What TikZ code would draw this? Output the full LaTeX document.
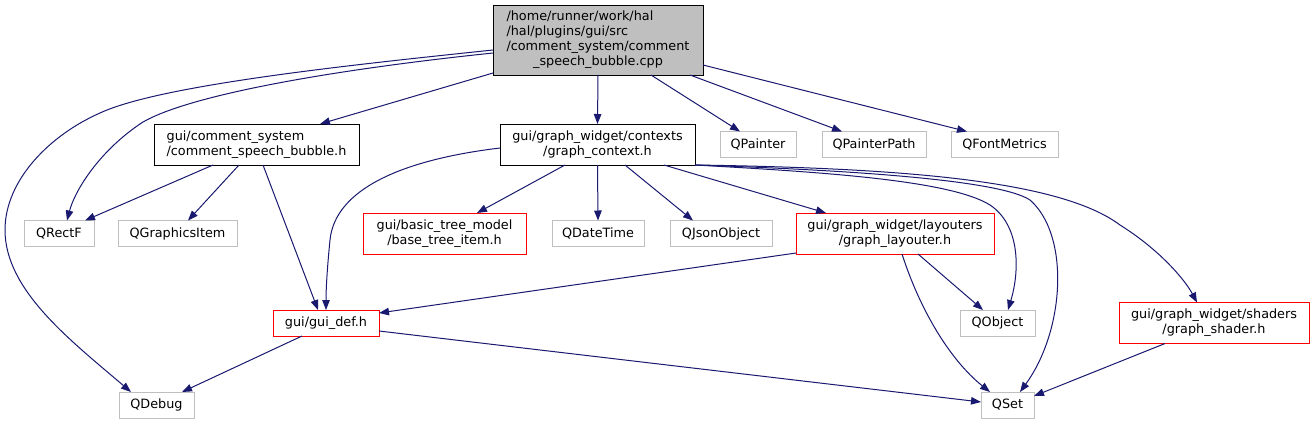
\documentclass[tikz,border=0pt]{standalone}
\usepackage{fontspec}
\setmainfont{DejaVu Sans}
\usetikzlibrary{arrows.meta}
\definecolor{edgecol}{HTML}{191970}
\definecolor{gborder}{HTML}{BFBFBF}
\definecolor{rborder}{HTML}{FF0000}
\begin{document}
\begin{tikzpicture}[x=1pt,y=-1pt,
  every node/.style={font=\fontsize{12.8}{15}\selectfont, inner sep=0pt, outer sep=0pt, line width=1pt},
  box/.style={draw, rectangle, align=center},
  extbox/.style={box, draw=gborder, minimum height=26pt},
  redbox/.style={box, draw=rborder},
  blkbox/.style={box, draw=black},
  edgeline/.style={draw=edgecol, line width=1pt, -{Triangle[length=10pt,width=7.5pt]}}
]
\fill[white] (0,0) rectangle (1314,424);
\useasboundingbox (0,0) rectangle (1314,424);

% nodes
\node[blkbox, fill=gborder, minimum width=210pt, minimum height=70pt] (root) at (598,40)
  {\begin{tabular}{@{}l@{}}/home/runner/work/hal\\/hal/plugins/gui/src\\/comment\_system/comment\\\multicolumn{1}{@{}c@{}}{\_speech\_bubble.cpp}\end{tabular}};
\node[blkbox, align=left, minimum width=205pt, minimum height=41pt] (csb) at (256.5,144.5)
  {gui/comment\_system\\/comment\_speech\_bubble.h};
\node[blkbox, minimum width=195pt, minimum height=41pt] (gctx) at (597.5,144.5)
  {gui/graph\_widget/contexts\\/graph\_context.h};
\node[extbox, minimum width=76pt] (qpainter) at (758,144.5) {QPainter};
\node[extbox, minimum width=104pt] (qpainterpath) at (874,144.5) {QPainterPath};
\node[extbox, minimum width=107pt] (qfontmetrics) at (1004.5,144.5) {QFontMetrics};

\node[extbox, minimum width=70pt] (qrectf) at (59,233.5) {QRectF};
\node[extbox, minimum width=119pt] (qgraphicsitem) at (177.5,233.5) {QGraphicsItem};
\node[redbox, minimum width=163pt, minimum height=41pt] (basetree) at (444.5,233.5)
  {gui/basic\_tree\_model\\/base\_tree\_item.h};
\node[extbox, minimum width=92pt] (qdatetime) at (598,233.5) {QDateTime};
\node[extbox, minimum width=102pt] (qjson) at (721,233.5) {QJsonObject};
\node[redbox, minimum width=198pt, minimum height=41pt] (layouter) at (895,233.5)
  {gui/graph\_widget/layouters\\/graph\_layouter.h};

\node[redbox, minimum width=106pt, minimum height=26pt] (guidef) at (326,323) {gui/gui\_def.h};
\node[extbox, minimum width=75pt] (qobject) at (997.5,323) {QObject};
\node[redbox, minimum width=190pt, minimum height=41pt] (shader) at (1214,323)
  {gui/graph\_widget/shaders\\/graph\_shader.h};

\node[extbox, minimum width=75pt] (qdebug) at (156.5,405) {QDebug};
\node[extbox, minimum width=53pt] (qset) at (1007.5,405) {QSet};

% edges from root
\draw[edgeline] ([yshift=-10pt]root.west) .. controls (350,65) and (160,85) .. (100,113)
  .. controls (50,135) and (5,180) .. (5,230) .. controls (5,290) and (70,340) .. ([xshift=12pt]qdebug.north west);
\draw[edgeline] ([yshift=-13pt]root.west) .. controls (330,70) and (190,95) .. (143,122)
  .. controls (100,150) and (75,190) .. ([xshift=8pt]qrectf.north);
\draw[edgeline] ([yshift=2pt]root.south west) -- ([xshift=63.5pt]csb.north);
\draw[edgeline] (root.south) -- (gctx.north);
\draw[edgeline] ([xshift=53pt]root.south) -- ([xshift=-18pt]qpainter.north);
\draw[edgeline] ([xshift=-13pt]root.south east) -- ([xshift=-32pt]qpainterpath.north);
\draw[edgeline] ([yshift=10pt]root.south east) -- ([xshift=-37.5pt]qfontmetrics.north);

% edges from comment_speech_bubble.h
\draw[edgeline] ([xshift=-43.5pt]csb.south) -- ([xshift=26pt]qrectf.north);
\draw[edgeline] ([xshift=-17.5pt]csb.south) -- ([xshift=10.5pt]qgraphicsitem.north);
\draw[edgeline] ([xshift=6.5pt]csb.south) -- ([xshift=-8pt]guidef.north);

% edges from graph_context.h
\draw[edgeline] ([yshift=-3.5pt]gctx.west) .. controls (400,160) and (335,190) .. (330,240)
  .. controls (327,270) and (326,290) .. (guidef.north);
\draw[edgeline] ([xshift=-32.5pt]gctx.south) -- ([xshift=32.5pt]basetree.north);
\draw[edgeline] (gctx.south) -- (qdatetime.north);
\draw[edgeline] ([xshift=27.5pt]gctx.south) -- ([xshift=-28pt]qjson.north);
\draw[edgeline] ([xshift=66.5pt]gctx.south) -- ([xshift=-69pt]layouter.north);
\draw[edgeline] (gctx.south east) .. controls (820,172) and (950,180) .. (990,205)
  .. controls (1020,225) and (1020,270) .. ([xshift=10.5pt]qobject.north);
\draw[edgeline] (gctx.south east) .. controls (850,170) and (1000,180) .. (1030,200)
  .. controls (1070,235) and (1065,330) .. ([xshift=12.5pt]qset.north);
\draw[edgeline] (gctx.south east) .. controls (900,168) and (1060,180) .. (1120,225)
  .. controls (1160,250) and (1185,280) .. ([xshift=-17pt]shader.north);

% edges from graph_layouter.h
\draw[edgeline] ([yshift=1pt]layouter.south west) -- ([yshift=-3pt]guidef.north east);
\draw[edgeline] ([xshift=23pt]layouter.south) -- ([xshift=-14.5pt]qobject.north);
\draw[edgeline] ([xshift=7pt]layouter.south) .. controls (920,310) and (950,360) .. ([xshift=-17.5pt]qset.north);

% edges from gui_def.h
\draw[edgeline] ([xshift=-24pt]guidef.south) -- ([xshift=25.5pt]qdebug.north);
\draw[edgeline] ([yshift=5pt]guidef.south east) -- ([yshift=3pt]qset.west);

% edge from graph_shader.h
\draw[edgeline] ([xshift=-49pt]shader.south) -- ([yshift=-4pt]qset.north east);
\end{tikzpicture}
\end{document}
